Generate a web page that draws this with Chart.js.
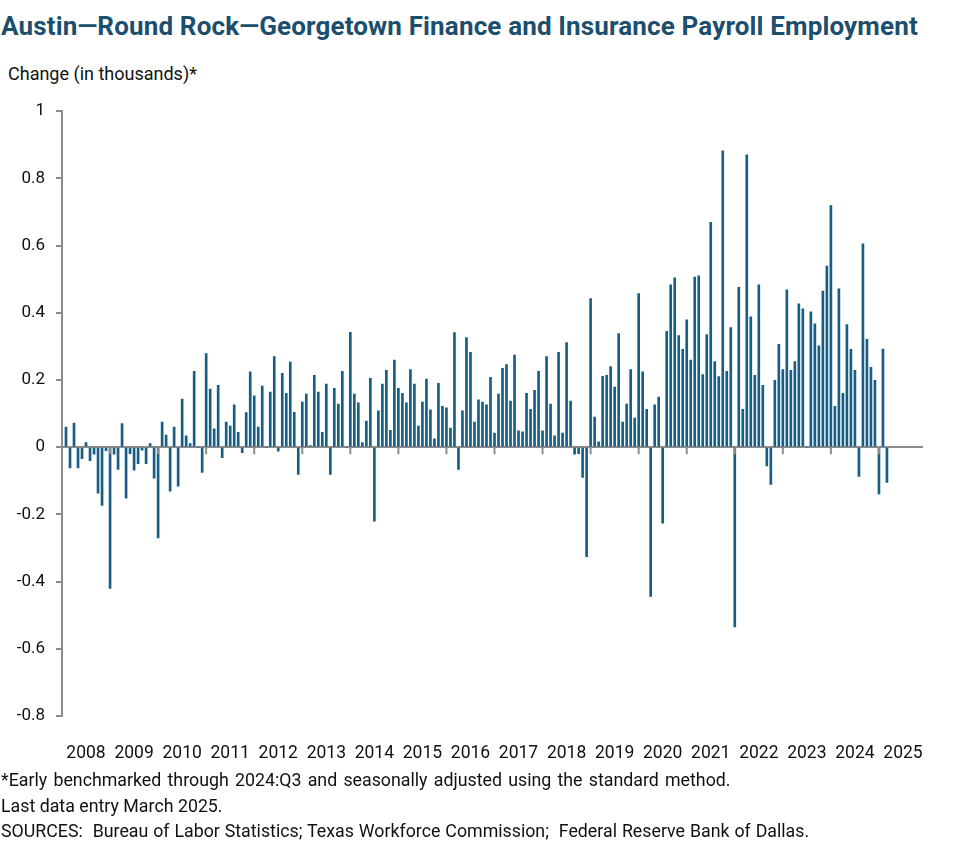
<!DOCTYPE html>
<html>
<head>
<meta charset="utf-8">
<script src="https://cdn.jsdelivr.net/npm/chart.js@4.4.1/dist/chart.umd.min.js"></script>
<style>
  html, body { margin: 0; padding: 0; background: #fff; }
  body { width: 977px; height: 864px; position: relative; overflow: hidden; font-family: Roboto, sans-serif; }
  .title { position: absolute; left: 1px; top: 13px; font-size: 26px; letter-spacing: 0.15px; line-height: 1; font-weight: 700; color: #1b4f6d; white-space: nowrap; }
  .units { position: absolute; left: 8px; top: 65px; font-size: 18px; line-height: 1; color: #111; white-space: nowrap; }
  .notes { position: absolute; left: 1px; top: 767px; font-size: 17.8px; line-height: 25.5px; color: #111; white-space: nowrap; }
  .notes .wide { word-spacing: 1.8px; }
  .notes .src { word-spacing: 0.5px; }
  #wrap { position: absolute; left: 0; top: 90px; width: 977px; height: 680px; }
</style>
</head>
<body>
<div class="title">Austin—Round Rock—Georgetown Finance and Insurance Payroll Employment</div>
<div class="units">Change (in thousands)*</div>
<div id="wrap"><canvas id="chart"></canvas></div>
<div class="notes">
  <span class="wide">*Early benchmarked through 2024:Q3 and seasonally adjusted using the standard method.</span><br>
  Last data entry March 2025.<br>
  <span class="src">SOURCES:&nbsp; Bureau of Labor Statistics; Texas Workforce Commission;&nbsp; Federal Reserve Bank of Dallas.</span>
</div>
<script>
// ==========================
// Data (monthly change, thousands) – one array per year, Jan..Dec
// ==========================
const years = [2008, 2009, 2010, 2011, 2012, 2013, 2014, 2015, 2016,
               2017, 2018, 2019, 2020, 2021, 2022, 2023, 2024, 2025];
const months = ["Jan","Feb","Mar","Apr","May","Jun","Jul","Aug","Sep","Oct","Nov","Dec"];

const chg2008 = [null, 0.060, -0.062, 0.072, -0.062, -0.034, 0.014, -0.040, -0.021, -0.137, -0.173, -0.010];
const chg2009 = [-0.420, -0.021, -0.066, 0.070, -0.152, -0.019, -0.068, -0.049, -0.009, -0.049, 0.011, -0.092];
const chg2010 = [-0.270, 0.075, 0.036, -0.131, 0.060, -0.116, 0.143, 0.034, 0.011, 0.226, 0.000, -0.075];
const chg2011 = [0.279, 0.173, 0.055, 0.184, -0.031, 0.075, 0.063, 0.126, 0.044, -0.016, 0.103, 0.224];
const chg2012 = [0.153, 0.060, 0.182, 0.000, 0.164, 0.270, -0.012, 0.220, 0.160, 0.253, 0.104, -0.081];
const chg2013 = [0.134, 0.158, 0.005, 0.214, 0.164, 0.044, 0.188, -0.081, 0.175, 0.128, 0.226, 0.000];
const chg2014 = [0.342, 0.158, 0.132, 0.014, 0.078, 0.205, -0.220, 0.108, 0.188, 0.229, 0.050, 0.259];
const chg2015 = [0.175, 0.160, 0.132, 0.231, 0.188, 0.063, 0.134, 0.203, 0.111, 0.025, 0.190, 0.122];
const chg2016 = [0.117, 0.057, 0.341, -0.066, 0.108, 0.326, 0.282, 0.075, 0.141, 0.134, 0.126, 0.208];
const chg2017 = [0.042, 0.158, 0.235, 0.246, 0.137, 0.274, 0.049, 0.046, 0.160, 0.113, 0.169, 0.226];
const chg2018 = [0.049, 0.270, 0.128, 0.034, 0.282, 0.042, 0.311, 0.137, -0.021, -0.019, -0.090, -0.326];
const chg2019 = [0.442, 0.090, 0.016, 0.211, 0.214, 0.240, 0.179, 0.338, 0.075, 0.128, 0.231, 0.087];
const chg2020 = [0.457, 0.224, 0.113, -0.444, 0.126, 0.149, -0.226, 0.345, 0.483, 0.504, 0.332, 0.291];
const chg2021 = [0.379, 0.259, 0.506, 0.510, 0.216, 0.335, 0.669, 0.255, 0.210, 0.882, 0.226, 0.356];
const chg2022 = [-0.535, 0.476, 0.113, 0.870, 0.388, 0.214, 0.483, 0.184, -0.056, -0.111, 0.199, 0.306];
const chg2023 = [0.231, 0.468, 0.229, 0.255, 0.427, 0.412, 0.000, 0.403, 0.367, 0.302, 0.465, 0.539];
const chg2024 = [0.719, 0.122, 0.471, 0.160, 0.365, 0.291, 0.229, -0.087, 0.605, 0.321, 0.238, 0.199];
const chg2025 = [-0.139, 0.292, -0.105, null, null, null, null, null, null, null, null, null];

const yTicks = { min: -0.8, max: 1, step: 0.2 };

// build the monthly category axis + series from the yearly arrays
const byYear = [chg2008, chg2009, chg2010, chg2011, chg2012, chg2013, chg2014, chg2015, chg2016,
                chg2017, chg2018, chg2019, chg2020, chg2021, chg2022, chg2023, chg2024, chg2025];
const labels = [];
years.forEach(y => months.forEach(m => labels.push(m + " " + y)));
const values = byYear.flat();

const axisGrey = "#8c8c8c";
const barBlue  = "#175e85";

// tick marks on the zero line at each year boundary
const yearTicks = {
  id: "yearTicks",
  afterDatasetsDraw(chart) {
    const { ctx, scales: { x, y } } = chart;
    const y0 = y.getPixelForValue(0);
    ctx.save();
    ctx.strokeStyle = axisGrey;
    ctx.lineWidth = 2;
    for (let i = 0; i < labels.length; i += 12) {
      const px = x.getPixelForValue(i);
      ctx.beginPath();
      ctx.moveTo(px, y0);
      ctx.lineTo(px, y0 + 7);
      ctx.stroke();
    }
    ctx.restore();
  }
};

new Chart(document.getElementById("chart").getContext("2d"), {
  type: "bar",
  data: {
    labels: labels,
    datasets: [{
      data: values,
      backgroundColor: barBlue,
      barThickness: 2,
      borderWidth: 0
    }]
  },
  options: {
    responsive: true,
    maintainAspectRatio: false,
    animation: false,
    layout: { padding: { top: 17, right: 54, left: 0, bottom: 0 } },
    plugins: { legend: { display: false }, tooltip: { enabled: false } },
    scales: {
      x: {
        offset: false,
        grid: { display: false },
        border: { display: false },
        afterFit: s => { s.height = 54; },
        ticks: {
          autoSkip: false,
          maxRotation: 0,
          padding: 19,
          color: "#111",
          font: { family: "Roboto", size: 17.5 },
          callback: (v, i) => (i % 12 === 6 ? years[Math.floor(i / 12)] : "")
        }
      },
      y: {
        min: yTicks.min,
        max: yTicks.max,
        afterFit: s => { s.width = 62; },
        border: { color: axisGrey, width: 2 },
        grid: {
          lineWidth: 2,
          tickLength: 6,
          tickColor: axisGrey,
          color: c => (c.tick && Math.abs(c.tick.value) < 1e-9 ? axisGrey : "rgba(0,0,0,0)")
        },
        ticks: {
          stepSize: yTicks.step,
          padding: 11,
          color: "#111",
          font: { family: "Roboto", size: 17 },
          callback: v => String(Math.round(v * 10) / 10)
        }
      }
    }
  },
  plugins: [yearTicks]
});
</script>
</body>
</html>
